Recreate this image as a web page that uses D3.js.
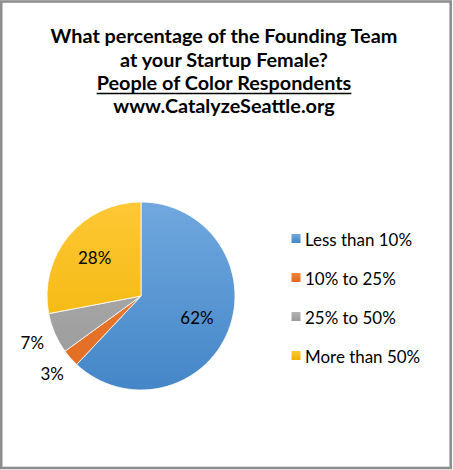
<!DOCTYPE html>
<html>
<head>
<meta charset="utf-8">
<script src="https://cdn.jsdelivr.net/npm/d3@7"></script>
<style>
  body { margin: 0; background: #fff; }
  svg { display: block; }
</style>
</head>
<body>
<div id="chart"></div>
<script>
// chart data
let titleLines = ["What percentage of the Founding Team", "at your Startup Female?", "People of Color Respondents", "www.CatalyzeSeattle.org"];
let categories = ["Less than 10%", "10% to 25%", "25% to 50%", "More than 50%"];
let values = [62, 3, 7, 28];
let colorsTop = ["#70a8de", "#f28438", "#b3b3b3", "#ffc835"];
let colorsBottom = ["#4486c8", "#e06a22", "#989898", "#eeb200"];

let svgWidth = 453;
let svgHeight = 470;
let fontFam = "Lato, 'Open Sans', sans-serif";

let svg = d3.select("#chart")
  .append("svg")
  .attr("width", svgWidth)
  .attr("height", svgHeight);

// outer frame
svg.append("rect")
  .attr("x", 1.2).attr("y", 1.5)
  .attr("width", 449.5).attr("height", 466.5)
  .attr("fill", "#fff")
  .attr("stroke", "#8e8e8e")
  .attr("stroke-width", 2.6);

// fit font size to a target width
function fitSize(sel, target, start) {
  let w = sel.node().getComputedTextLength();
  return start * target / w;
}

// ---- title ----
let titleG = svg.append("g").attr("font-family", fontFam).attr("font-weight", "bold").attr("fill", "#000");
let titleBase = [43, 67, 90, 113];
let titleTexts = titleG.selectAll("text")
  .data(titleLines)
  .enter()
  .append("text")
  .attr("x", 224)
  .attr("y", (d, i) => titleBase[i])
  .attr("text-anchor", "middle")
  .attr("font-size", 18)
  .text(d => d);

let titleSize = fitSize(titleTexts.filter((d, i) => i === 0), 347, 18);
titleTexts.attr("font-size", titleSize);

// underline for third line
let ul = titleTexts.filter((d, i) => i === 2);
let ulW = ul.node().getComputedTextLength();
titleG.append("line")
  .attr("x1", 224 - ulW / 2).attr("x2", 224 + ulW / 2)
  .attr("y1", titleBase[2] + 3.5).attr("y2", titleBase[2] + 3.5)
  .attr("stroke", "#000").attr("stroke-width", 1.4);

// ---- pie ----
let cx = 141, cy = 296, radius = 94;
let defs = svg.append("defs");
categories.forEach((c, i) => {
  let g = defs.append("linearGradient")
    .attr("id", "grad" + i)
    .attr("gradientUnits", "userSpaceOnUse")
    .attr("x1", 0).attr("y1", cy - radius)
    .attr("x2", 0).attr("y2", cy + radius);
  g.append("stop").attr("offset", "0%").attr("stop-color", colorsTop[i]);
  g.append("stop").attr("offset", "100%").attr("stop-color", colorsBottom[i]);
});

let pie = d3.pie().sort(null).value(d => d);
let arcs = pie(values);
let arc = d3.arc().innerRadius(0).outerRadius(radius);
let inLabelArc = d3.arc().innerRadius(radius * 0.64).outerRadius(radius * 0.64);
let outLabelArc = d3.arc().innerRadius(radius * 1.26).outerRadius(radius * 1.26);

let pieG = svg.append("g").attr("transform", `translate(${cx}, ${cy})`);

pieG.selectAll("path")
  .data(arcs)
  .enter()
  .append("path")
  .attr("d", arc)
  .attr("transform", `translate(0, 0)`)
  .attr("fill", (d, i) => `url(#grad${i})`)
  .attr("stroke", "#fff")
  .attr("stroke-width", 0.8);

// gradient units are in user space of the path; shift gradient to the pie group
defs.selectAll("linearGradient")
  .attr("y1", -radius).attr("y2", radius);

// ---- legend ----
let legendG = svg.append("g").attr("font-family", fontFam).attr("fill", "#000");
let legendY = [240, 279, 318, 357];
legendG.selectAll("rect")
  .data(categories)
  .enter()
  .append("rect")
  .attr("x", 291.5)
  .attr("y", (d, i) => legendY[i] - 6)
  .attr("width", 9).attr("height", 9)
  .attr("fill", (d, i) => `url(#lg${i})`);

categories.forEach((c, i) => {
  let g = defs.append("linearGradient")
    .attr("id", "lg" + i)
    .attr("x1", 0).attr("y1", 0).attr("x2", 0).attr("y2", 1);
  g.append("stop").attr("offset", "0%").attr("stop-color", colorsTop[i]);
  g.append("stop").attr("offset", "100%").attr("stop-color", colorsBottom[i]);
});

let legendTexts = legendG.selectAll("text")
  .data(categories)
  .enter()
  .append("text")
  .attr("x", 305)
  .attr("y", (d, i) => legendY[i] + 6)
  .attr("font-size", 17)
  .text(d => d);

let legSize = fitSize(legendTexts.filter((d, i) => i === 0), 107, 17);
legendTexts.attr("font-size", legSize);

// ---- data labels ----
let total = d3.sum(values);
pieG.selectAll("text")
  .data(arcs)
  .enter()
  .append("text")
  .attr("font-family", fontFam)
  .attr("font-size", legSize)
  .attr("fill", "#000")
  .attr("text-anchor", "middle")
  .attr("dy", "0.36em")
  .attr("transform", d => {
    let p = (d.value / total) < 0.1 ? outLabelArc.centroid(d) : inLabelArc.centroid(d);
    return `translate(${p[0]}, ${p[1]})`;
  })
  .text(d => Math.round(d.value / total * 100) + "%");
</script>
</body>
</html>
